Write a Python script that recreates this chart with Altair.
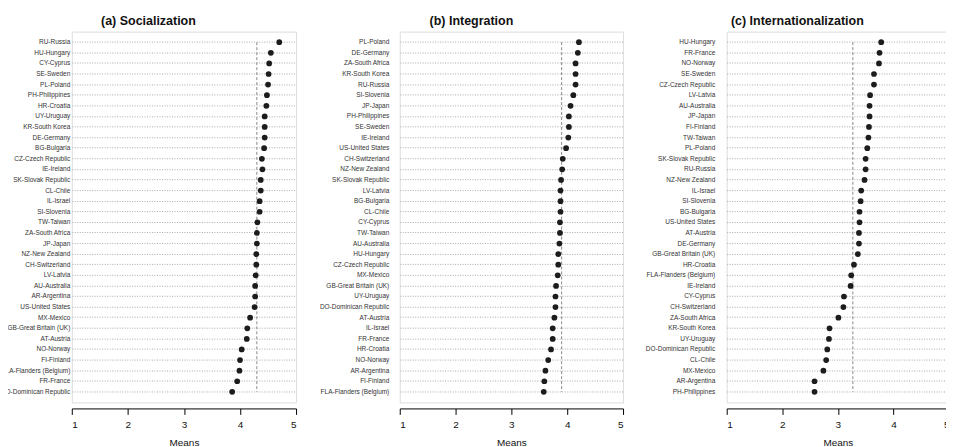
import altair as alt
import pandas as pd

FONT = "Liberation Sans"

soc_countries = ["RU-Russia", "HU-Hungary", "CY-Cyprus", "SE-Sweden", "PL-Poland", "PH-Philippines",
                 "HR-Croatia", "UY-Uruguay", "KR-South Korea", "DE-Germany", "BG-Bulgaria",
                 "CZ-Czech Republic", "IE-Ireland", "SK-Slovak Republic", "CL-Chile", "IL-Israel",
                 "SI-Slovenia", "TW-Taiwan", "ZA-South Africa", "JP-Japan", "NZ-New Zealand",
                 "CH-Switzerland", "LV-Latvia", "AU-Australia", "AR-Argentina", "US-United States",
                 "MX-Mexico", "GB-Great Britain (UK)", "AT-Austria", "NO-Norway", "FI-Finland",
                 "FLA-Flanders (Belgium)", "FR-France", "DO-Dominican Republic"]
soc_values = [4.70, 4.55, 4.52, 4.51, 4.50, 4.48, 4.47, 4.44, 4.44, 4.44, 4.43, 4.39, 4.40, 4.37,
              4.37, 4.35, 4.35, 4.31, 4.30, 4.30, 4.29, 4.29, 4.28, 4.27, 4.27, 4.26, 4.18, 4.13,
              4.12, 4.03, 4.00, 3.99, 3.95, 3.86]
soc_overall = 4.30

int_countries = ["PL-Poland", "DE-Germany", "ZA-South Africa", "KR-South Korea", "RU-Russia",
                 "SI-Slovenia", "JP-Japan", "PH-Philippines", "SE-Sweden", "IE-Ireland",
                 "US-United States", "CH-Switzerland", "NZ-New Zealand", "SK-Slovak Republic",
                 "LV-Latvia", "BG-Bulgaria", "CL-Chile", "CY-Cyprus", "TW-Taiwan", "AU-Australia",
                 "HU-Hungary", "CZ-Czech Republic", "MX-Mexico", "GB-Great Britain (UK)",
                 "UY-Uruguay", "DO-Dominican Republic", "AT-Austria", "IL-Israel", "FR-France",
                 "HR-Croatia", "NO-Norway", "AR-Argentina", "FI-Finland", "FLA-Flanders (Belgium)"]
int_values = [4.21, 4.19, 4.15, 4.15, 4.15, 4.11, 4.06, 4.03, 4.03, 4.02, 3.98, 3.92, 3.91, 3.89,
              3.88, 3.88, 3.88, 3.87, 3.87, 3.86, 3.84, 3.84, 3.83, 3.80, 3.79, 3.79, 3.77, 3.74,
              3.74, 3.71, 3.66, 3.61, 3.59, 3.58]
int_overall = 3.90

intl_countries = ["HU-Hungary", "FR-France", "NO-Norway", "SE-Sweden", "CZ-Czech Republic",
                  "LV-Latvia", "AU-Australia", "JP-Japan", "FI-Finland", "TW-Taiwan", "PL-Poland",
                  "SK-Slovak Republic", "RU-Russia", "NZ-New Zealand", "IL-Israel", "SI-Slovenia",
                  "BG-Bulgaria", "US-United States", "AT-Austria", "DE-Germany",
                  "GB-Great Britain (UK)", "HR-Croatia", "FLA-Flanders (Belgium)", "IE-Ireland",
                  "CY-Cyprus", "CH-Switzerland", "ZA-South Africa", "KR-South Korea", "UY-Uruguay",
                  "DO-Dominican Republic", "CL-Chile", "MX-Mexico", "AR-Argentina", "PH-Philippines"]
intl_values = [3.78, 3.75, 3.74, 3.65, 3.65, 3.58, 3.57, 3.57, 3.56, 3.55, 3.53, 3.50, 3.50, 3.48,
               3.42, 3.41, 3.39, 3.39, 3.38, 3.38, 3.36, 3.29, 3.24, 3.23, 3.11, 3.10, 3.01, 2.85,
               2.84, 2.81, 2.79, 2.74, 2.58, 2.58]
intl_overall = 3.27

x_ticks = [1, 2, 3, 4, 5]


def panel(countries, values, overall, title, width, label_pad):
    df = pd.DataFrame({"country": countries, "mean": values})
    ref = pd.DataFrame({"overall": [overall], "top": [countries[0]], "bottom": [countries[-1]]})
    xscale = alt.Scale(domain=[1, 5], nice=False, zero=False)
    xaxis = alt.Axis(values=x_ticks, format="d", title="Means", grid=False, offset=6,
                     domainColor="#000", tickColor="#000", tickSize=6, labelPadding=5,
                     labelFontSize=10, labelColor="#111", titleFontSize=10, titleColor="#111",
                     titleFontWeight="normal", titlePadding=8, labelFont=FONT, titleFont=FONT)
    yscale = alt.Scale(domain=countries, padding=1)
    yaxis = alt.Axis(title=None, domain=False, ticks=False, grid=True, gridColor="#aaaaaa",
                     gridDash=[1, 1.5], gridWidth=1, labelFontSize=6.5, labelColor="#333",
                     labelPadding=label_pad, labelFont=FONT, labelLimit=200)
    rule = alt.Chart(ref).mark_rule(color="#8a8a8a", strokeDash=[3, 2], strokeWidth=1).encode(
        x=alt.X("overall:Q", scale=xscale, axis=xaxis),
        y=alt.Y("top:N", scale=yscale, axis=yaxis, sort=None),
        y2="bottom",
    )
    pts = alt.Chart(df).mark_circle(size=33, color="#1c1c1c", opacity=1).encode(
        x=alt.X("mean:Q", scale=xscale, axis=xaxis),
        y=alt.Y("country:N", scale=yscale, axis=yaxis, sort=None),
    )
    return alt.layer(rule, pts).properties(
        width=width, height=372,
        title=alt.TitleParams(title, fontSize=12.5, fontWeight="bold", font=FONT, color="#111",
                              offset=4, anchor="middle", frame="bounds"),
    )


p1 = panel(soc_countries, soc_values, soc_overall, "(a) Socialization", 225, 2)
p2 = panel(int_countries, int_values, int_overall, "(b) Integration", 224, 11)
p3 = panel(intl_countries, intl_values, intl_overall, "(c) Internationalization", 223, 12)

chart = alt.hconcat(p1, p2, p3, spacing=104, bounds="flush").properties(
    padding={"left": -9, "top": 6, "right": -4, "bottom": 0}
).configure_view(stroke=None).configure(background="white")

chart.save("out.html", embed_options={"renderer": "svg", "actions": False})
